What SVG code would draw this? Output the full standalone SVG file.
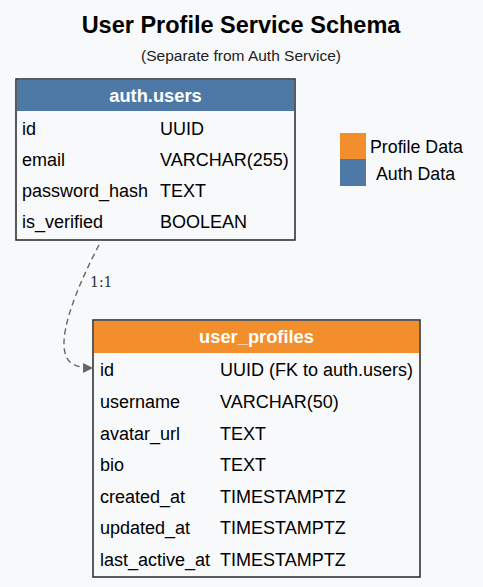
<svg xmlns="http://www.w3.org/2000/svg" width="483" height="587" viewBox="0 0 483 587">
<style>
text{font-family:"Liberation Sans",Arial,sans-serif;fill:#000}
.title{font-size:23.5px;font-weight:bold}
.sub{font-size:15.5px;fill:#222}
.hdr{font-size:18.3px;font-weight:bold;fill:#fff}
.f{font-size:18px}
.box{fill:#f8f9fb;stroke:#333;stroke-width:1.6}
.lg{font-size:17.8px}
.edge{fill:none;stroke:#666;stroke-width:1.4;stroke-dasharray:6,4}
.el{font-family:"DejaVu Serif","Liberation Serif",serif;font-size:14px;fill:#333}
</style>
<defs>
<marker id="arr" viewBox="0 0 10 10" refX="10" refY="5" markerWidth="10" markerHeight="10" markerUnits="userSpaceOnUse" orient="auto">
<path d="M0,0 L10,5 L0,10 z" fill="#666"/>
</marker>
</defs>
<rect width="483" height="587" fill="#f8f9fb"/>
<text class="title" x="241" y="33" text-anchor="middle">User Profile Service Schema</text>
<text class="sub" x="241" y="61" text-anchor="middle">(Separate from Auth Service)</text>
<g id="auth_users">
<rect class="box" x="16" y="79" width="279" height="161"/>
<rect x="17" y="80" width="277" height="31" fill="#4e79a7"/>
<text class="hdr" x="155.5" y="102" text-anchor="middle">auth.users</text>
<text class="f" x="22" y="135">id</text><text class="f" x="160" y="135">UUID</text>
<text class="f" x="22" y="166">email</text><text class="f" x="160" y="166">VARCHAR(255)</text>
<text class="f" x="22" y="197">password_hash</text><text class="f" x="160" y="197">TEXT</text>
<text class="f" x="22" y="228">is_verified</text><text class="f" x="160" y="228">BOOLEAN</text>
</g>
<g id="user_profiles">
<rect class="box" x="93" y="320" width="327" height="257"/>
<rect x="94" y="321" width="325" height="32" fill="#f28e2b"/>
<text class="hdr" x="256.5" y="343" text-anchor="middle">user_profiles</text>
<text class="f" x="100" y="376">id</text><text class="f" x="220" y="376">UUID (FK to auth.users)</text>
<text class="f" x="100" y="408">username</text><text class="f" x="220" y="408">VARCHAR(50)</text>
<text class="f" x="100" y="440">avatar_url</text><text class="f" x="220" y="440">TEXT</text>
<text class="f" x="100" y="471">bio</text><text class="f" x="220" y="471">TEXT</text>
<text class="f" x="100" y="503">created_at</text><text class="f" x="220" y="503">TIMESTAMPTZ</text>
<text class="f" x="100" y="534">updated_at</text><text class="f" x="220" y="534">TIMESTAMPTZ</text>
<text class="f" x="100" y="566">last_active_at</text><text class="f" x="220" y="566">TIMESTAMPTZ</text>
</g>
<g id="legend">
<rect x="340" y="133" width="26" height="26" fill="#f28e2b"/>
<rect x="340" y="159" width="26" height="27" fill="#4e79a7"/>
<text class="lg" x="370" y="153">Profile Data</text>
<text class="lg" x="376" y="180">Auth Data</text>
</g>
<g id="connectors">
<path class="edge" d="M99,245 C78,285 52,345 70,362 C76,367 84,368 93,368" marker-end="url(#arr)"/>
<text class="el" x="90" y="287">1:1</text>
</g>
</svg>
